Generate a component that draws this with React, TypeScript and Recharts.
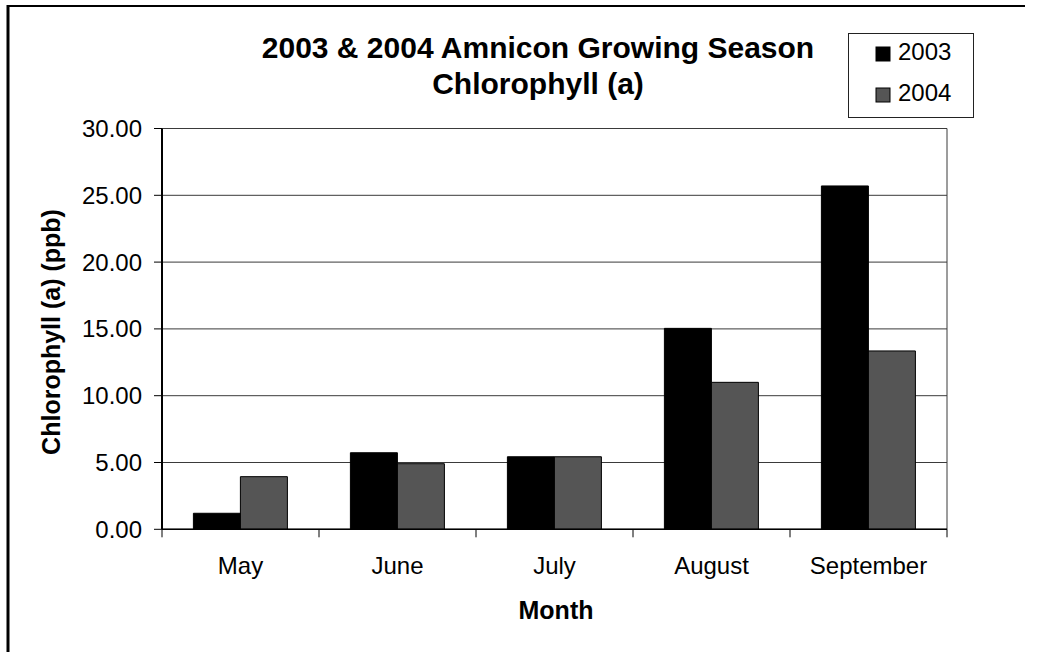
import React from "react";
import { BarChart, Bar, XAxis, YAxis, CartesianGrid } from "recharts";

// values (ppb)
const months = ["May", "June", "July", "August", "September"];
const chl2003 = [1.2, 5.73, 5.43, 15.04, 25.7];
const chl2004 = [3.94, 4.91, 5.43, 11.0, 13.35];
const yTicks = [0, 5, 10, 15, 20, 25, 30];

const SERIES = [
    { key: "y2003", name: "2003", color: "#000000" },
    { key: "y2004", name: "2004", color: "#555555" },
];

const FONT = "'Liberation Sans', Arial, Helvetica, sans-serif";

const data = months.map((m, i) => ({ month: m, y2003: chl2003[i], y2004: chl2004[i] }));

// Excel-style category axis: ticks sit between the categories, not under them
function MonthTick(props: any) {
    const { x, y, payload, index, visibleTicksCount } = props;
    const half = payload?.offset ?? 0;
    return (
        <g>
            <line x1={x - half} x2={x - half} y1={y} y2={y + 8} stroke="#000" />
            {index === visibleTicksCount - 1 && (
                <line x1={x + half} x2={x + half} y1={y} y2={y + 8} stroke="#000" />
            )}
            <text x={x} y={y + 45} textAnchor="middle" fontSize={24} fontFamily={FONT} fill="#000">
                {payload.value}
            </text>
        </g>
    );
}

export default function App() {
    return (
        <div style={{ position: "absolute", left: 0, top: 0, width: 1059, height: 652, background: "#fff" }}>
            <BarChart
                width={1059}
                height={652}
                data={data}
                margin={{ top: 128.5, right: 112, bottom: 62.7, left: 82 }}
                barCategoryGap="20%"
                barGap={0}
            >
                <CartesianGrid
                    stroke="#3a3a3a"
                    strokeWidth={1}
                    verticalCoordinatesGenerator={({ offset }: any) => [offset.left + offset.width]}
                />
                <XAxis
                    dataKey="month"
                    height={60}
                    tickSize={0}
                    tickMargin={0}
                    interval={0}
                    tick={<MonthTick />}
                    axisLine={{ stroke: "#000", strokeWidth: 1.5 }}
                />
                <YAxis
                    width={80}
                    domain={[0, 30]}
                    ticks={yTicks}
                    interval={0}
                    tickFormatter={(v: number) => v.toFixed(2)}
                    tickSize={8}
                    tickMargin={12}
                    tick={{ fontSize: 24, fill: "#000", fontFamily: FONT }}
                    tickLine={{ stroke: "#000" }}
                    axisLine={{ stroke: "#000", strokeWidth: 2 }}
                />
                {SERIES.map((s) => (
                    <Bar
                        key={s.key}
                        dataKey={s.key}
                        name={s.name}
                        fill={s.color}
                        stroke="#000"
                        strokeWidth={1}
                        isAnimationActive={false}
                    />
                ))}
            </BarChart>

            {/* titles, legend and the scanned page frame */}
            <svg
                width={1059}
                height={652}
                style={{ position: "absolute", left: 0, top: 0, pointerEvents: "none" }}
                fontFamily={FONT}
            >
                <line x1={7} x2={1025} y1={6} y2={6} stroke="#000" strokeWidth={2} />
                <line x1={8} x2={8} y1={5} y2={652} stroke="#000" strokeWidth={3} />

                <text x={538} y={58} textAnchor="middle" fontSize={30} fontWeight="bold" fill="#000">
                    2003 &amp; 2004 Amnicon Growing Season
                </text>
                <text x={538} y={94} textAnchor="middle" fontSize={30} fontWeight="bold" fill="#000">
                    Chlorophyll (a)
                </text>

                <text x={556} y={619} textAnchor="middle" fontSize={25} fontWeight="bold" fill="#000">
                    Month
                </text>
                <text
                    transform="translate(60,332) rotate(-90)"
                    textAnchor="middle"
                    fontSize={25}
                    fontWeight="bold"
                    fill="#000"
                >
                    Chlorophyll (a) (ppb)
                </text>

                <rect x={848.5} y={33.5} width={125} height={84} fill="#fff" stroke="#222" strokeWidth={1} />
                {SERIES.map((s, i) => (
                    <g key={s.key}>
                        <rect x={876} y={47 + i * 41} width={14} height={14} fill={s.color} stroke="#000" />
                        <text x={898} y={60 + i * 41} fontSize={24} fill="#000">
                            {s.name}
                        </text>
                    </g>
                ))}
            </svg>
        </div>
    );
}
